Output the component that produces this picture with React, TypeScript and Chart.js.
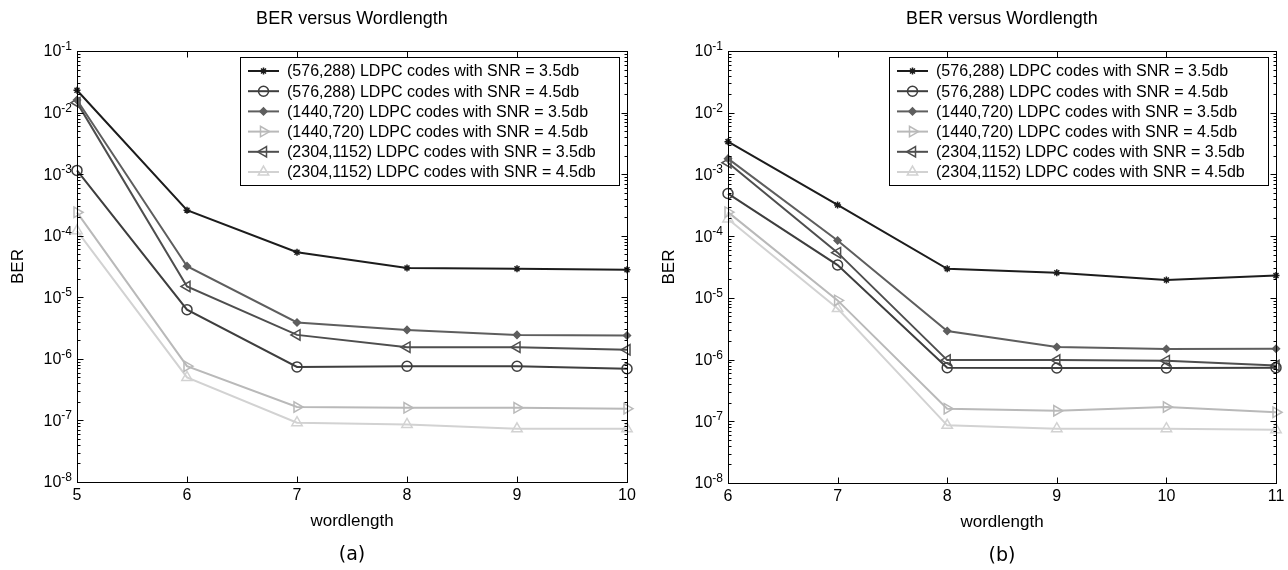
import React, { useEffect, useRef } from 'react';
import { Chart, registerables } from 'chart.js';
import { drawPoint } from 'chart.js/helpers';

Chart.register(...registerables);

// ---------- data ----------
const seriesLabels = [
  '(576,288) LDPC codes with SNR = 3.5db',
  '(576,288) LDPC codes with SNR = 4.5db',
  '(1440,720) LDPC codes with SNR = 3.5db',
  '(1440,720) LDPC codes with SNR = 4.5db',
  '(2304,1152) LDPC codes with SNR = 3.5db',
  '(2304,1152) LDPC codes with SNR = 4.5db',
];

const wordlengthA = [5, 6, 7, 8, 9, 10];
const berA_576_35 = [2.3e-2, 2.6e-4, 5.4e-5, 3.0e-5, 2.9e-5, 2.8e-5];
const berA_576_45 = [1.15e-3, 6.3e-6, 7.4e-7, 7.6e-7, 7.6e-7, 6.9e-7];
const berA_1440_35 = [1.6e-2, 3.2e-5, 3.9e-6, 2.95e-6, 2.45e-6, 2.4e-6];
const berA_1440_45 = [2.4e-4, 7.6e-7, 1.65e-7, 1.6e-7, 1.6e-7, 1.55e-7];
const berA_2304_35 = [1.45e-2, 1.5e-5, 2.45e-6, 1.55e-6, 1.55e-6, 1.4e-6];
const berA_2304_45 = [1.2e-4, 5.0e-7, 9.2e-8, 8.6e-8, 7.3e-8, 7.3e-8];

const wordlengthB = [6, 7, 8, 9, 10, 11];
const berB_576_35 = [3.4e-3, 3.2e-4, 2.95e-5, 2.55e-5, 1.95e-5, 2.3e-5];
const berB_576_45 = [4.9e-4, 3.4e-5, 7.4e-7, 7.3e-7, 7.3e-7, 7.4e-7];
const berB_1440_35 = [1.8e-3, 8.5e-5, 2.9e-6, 1.6e-6, 1.48e-6, 1.5e-6];
const berB_1440_45 = [2.45e-4, 9.1e-6, 1.6e-7, 1.48e-7, 1.7e-7, 1.4e-7];
const berB_2304_35 = [1.55e-3, 5.4e-5, 9.8e-7, 9.8e-7, 9.6e-7, 8.0e-7];
const berB_2304_45 = [1.9e-4, 6.7e-6, 8.6e-8, 7.6e-8, 7.6e-8, 7.3e-8];

const yExponents = [-1, -2, -3, -4, -5, -6, -7, -8];
const minorMultipliers = [2, 3, 4, 5, 6, 7, 8, 9];
const xTicksA = [5, 6, 7, 8, 9, 10];
const xTicksB = [6, 7, 8, 9, 10, 11];

const chartTitle = 'BER versus Wordlength';
const xAxisLabel = 'wordlength';
const yAxisLabel = 'BER';

// ---------- styles ----------
const seriesStyles = [
  { color: '#1c1c1c', bg: '#1c1c1c', pointStyle: 'star', radius: 3.5, rotation: 0 },
  { color: '#3e3e3e', bg: 'rgba(0,0,0,0)', pointStyle: 'circle', radius: 5, rotation: 0 },
  { color: '#5e5e5e', bg: '#5e5e5e', pointStyle: 'rectRot', radius: 3.5, rotation: 0 },
  { color: '#b9b9b9', bg: 'rgba(0,0,0,0)', pointStyle: 'triangle', radius: 6, rotation: 90 },
  { color: '#4e4e4e', bg: 'rgba(0,0,0,0)', pointStyle: 'triangle', radius: 6, rotation: -90 },
  { color: '#d2d2d2', bg: 'rgba(0,0,0,0)', pointStyle: 'triangle', radius: 6, rotation: 0 },
];

const FONT = '"Liberation Sans", Arial, sans-serif';

function makeOverlay(xTicks: number[], panelLabel: string) {
  return {
    id: 'overlay',
    afterDatasetsDraw(chart: any) {
      const { ctx, chartArea: a } = chart;
      // legend
      const W = 379, H = 128;
      const lx = a.right - 8 - W;
      const ly = a.top + 6;
      ctx.save();
      ctx.fillStyle = '#ffffff';
      ctx.fillRect(lx, ly, W, H);
      ctx.strokeStyle = '#000';
      ctx.lineWidth = 1;
      ctx.strokeRect(Math.round(lx) + 0.5, Math.round(ly) + 0.5, W, H);
      chart.data.datasets.forEach((ds: any, i: number) => {
        const st = seriesStyles[i];
        const y = ly + 14 + i * 20.2;
        ctx.strokeStyle = st.color;
        ctx.lineWidth = 2;
        ctx.beginPath();
        ctx.moveTo(lx + 8, y);
        ctx.lineTo(lx + 39, y);
        ctx.stroke();
        ctx.fillStyle = st.bg;
        ctx.lineWidth = 1.5;
        drawPoint(ctx, { pointStyle: st.pointStyle, rotation: st.rotation, radius: st.radius, borderWidth: 1.5 }, lx + 23.5, y);
        ctx.fillStyle = '#000';
        ctx.font = `16px ${FONT}`;
        ctx.textAlign = 'left';
        ctx.textBaseline = 'middle';
        ctx.fillText(ds.label, lx + 47, y + 1);
      });
      ctx.restore();
    },
    afterDraw(chart: any) {
      const { ctx, chartArea: a, scales } = chart;
      const xs = scales.x, ys = scales.y;
      ctx.save();
      ctx.strokeStyle = '#000';
      ctx.lineWidth = 1;
      const L = Math.round(a.left) + 0.5, R = Math.round(a.right) + 0.5;
      const T = Math.round(a.top) + 0.5, B = Math.round(a.bottom) + 0.5;
      ctx.strokeRect(L, T, R - L, B - T);
      ctx.beginPath();
      // y major + minor ticks
      yExponents.forEach((e) => {
        const y = Math.round(ys.getPixelForValue(Math.pow(10, e))) + 0.5;
        ctx.moveTo(L, y); ctx.lineTo(L + 6, y);
        ctx.moveTo(R, y); ctx.lineTo(R - 6, y);
        if (e > -8) {
          minorMultipliers.forEach((m) => {
            const yy = Math.round(ys.getPixelForValue(m * Math.pow(10, e - 1))) + 0.5;
            ctx.moveTo(L, yy); ctx.lineTo(L + 3, yy);
            ctx.moveTo(R, yy); ctx.lineTo(R - 3, yy);
          });
        }
      });
      xTicks.forEach((t) => {
        const x = Math.round(xs.getPixelForValue(t)) + 0.5;
        ctx.moveTo(x, B); ctx.lineTo(x, B - 6);
        ctx.moveTo(x, T); ctx.lineTo(x, T + 6);
      });
      ctx.stroke();

      ctx.fillStyle = '#000';
      // y tick labels with superscript
      yExponents.forEach((e) => {
        const y = ys.getPixelForValue(Math.pow(10, e));
        const sup = String(e);
        ctx.font = `12px ${FONT}`;
        const supW = ctx.measureText(sup).width;
        const right = a.left - 5;
        ctx.textBaseline = 'alphabetic';
        ctx.textAlign = 'left';
        ctx.fillText(sup, right - supW, y - 1);
        ctx.font = `16px ${FONT}`;
        ctx.textAlign = 'right';
        ctx.textBaseline = 'middle';
        ctx.fillText('10', right - supW, y + 1);
      });
      // x tick labels
      ctx.font = `16px ${FONT}`;
      ctx.textAlign = 'center';
      ctx.textBaseline = 'middle';
      xTicks.forEach((t) => {
        ctx.fillText(String(t), xs.getPixelForValue(t), a.bottom + 14);
      });
      const cx = (a.left + a.right) / 2;
      // title
      ctx.font = `18px ${FONT}`;
      ctx.fillText(chartTitle, cx, 19);
      // x label
      ctx.font = `17px ${FONT}`;
      ctx.fillText(xAxisLabel, cx, a.bottom + 39);
      // y label
      ctx.save();
      ctx.translate(a.left - 59, (a.top + a.bottom) / 2);
      ctx.rotate(-Math.PI / 2);
      ctx.font = `17px ${FONT}`;
      ctx.fillText(yAxisLabel, 0, 0);
      ctx.restore();
      // panel label
      ctx.font = `19px "DejaVu Sans", sans-serif`;
      ctx.fillText(panelLabel, cx, a.bottom + 73);
      ctx.restore();
    },
  };
}

type PanelProps = {
  xs: number[];
  ys: number[][];
  xTicks: number[];
  padding: { left: number; right: number; top: number; bottom: number };
  panelLabel: string;
  left: number;
  width: number;
};

function Panel({ xs, ys, xTicks, padding, panelLabel, left, width }: PanelProps) {
  const ref = useRef<HTMLCanvasElement | null>(null);
  useEffect(() => {
    if (!ref.current) return;
    const datasets = ys.map((vals, i) => {
      const st = seriesStyles[i];
      return {
        label: seriesLabels[i],
        data: xs.map((x, j) => ({ x, y: vals[j] })),
        borderColor: st.color,
        backgroundColor: st.bg,
        pointBorderColor: st.color,
        pointBackgroundColor: st.bg,
        pointStyle: st.pointStyle,
        pointRadius: st.radius,
        pointRotation: st.rotation,
        pointBorderWidth: 1.5,
        borderWidth: 2,
        tension: 0,
        fill: false,
        clip: false,
      };
    });
    const chart = new Chart(ref.current, {
      type: 'line',
      data: { datasets } as any,
      options: {
        responsive: false,
        animation: false,
        events: [],
        layout: { padding },
        plugins: {
          legend: { display: false },
          title: { display: false },
          tooltip: { enabled: false },
        },
        scales: {
          x: { type: 'linear', min: xTicks[0], max: xTicks[xTicks.length - 1], display: false },
          y: { type: 'logarithmic', min: 1e-8, max: 1e-1, display: false },
        },
      } as any,
      plugins: [makeOverlay(xTicks, panelLabel)],
    });
    return () => chart.destroy();
  }, []);
  return (
    <canvas
      ref={ref}
      width={width}
      height={570}
      style={{ position: 'absolute', left, top: 0, width, height: 570 }}
    />
  );
}

export default function App() {
  return (
    <div style={{ position: 'absolute', left: 0, top: 0, width: 1288, height: 570, background: '#fff' }}>
      <Panel
        xs={wordlengthA}
        ys={[berA_576_35, berA_576_45, berA_1440_35, berA_1440_45, berA_2304_35, berA_2304_45]}
        xTicks={xTicksA}
        padding={{ left: 77, right: 17, top: 51, bottom: 88 }}
        panelLabel="(a)"
        left={0}
        width={644}
      />
      <Panel
        xs={wordlengthB}
        ys={[berB_576_35, berB_576_45, berB_1440_35, berB_1440_45, berB_2304_35, berB_2304_45]}
        xTicks={xTicksB}
        padding={{ left: 84, right: 12, top: 51, bottom: 87 }}
        panelLabel="(b)"
        left={644}
        width={644}
      />
    </div>
  );
}
